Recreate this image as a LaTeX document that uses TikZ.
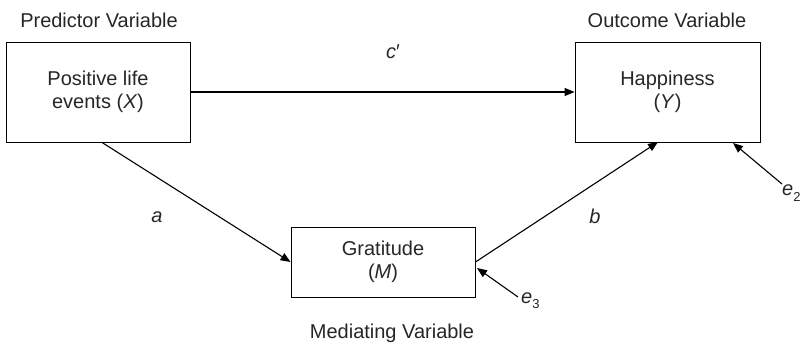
\documentclass[tikz,border=0pt]{standalone}
\usepackage{fontspec}
\setmainfont{Liberation Sans}
\usetikzlibrary{arrows.meta}
\begin{document}
\begin{tikzpicture}[x=1pt,y=-1pt,
  every node/.style={font=\fontsize{20}{23}\selectfont, text=black!85},
  varbox/.style={draw, line width=0.9pt, inner sep=0pt, align=center},
  conn/.style={line width=1.1pt, -{Triangle[length=10pt,width=8pt]}},
  lbl/.style={inner sep=0pt}]
\useasboundingbox (0,0) rectangle (803,349);
\node[varbox, minimum width=184pt, minimum height=100pt] (X) at (98,92) {Positive life\\events (\textit{X})};
\node[varbox, minimum width=185pt, minimum height=100pt] (Y) at (667.5,92) {Happiness\\(\textit{Y})};
\node[varbox, minimum width=184pt, minimum height=70pt] (M) at (383,262) {Gratitude\\(\textit{M})};
\coordinate (e2s) at (782,184);
\coordinate (e3s) at (518,297);
\node[lbl] (tp) at (99,20) {Predictor Variable};
\node[lbl] (to) at (667,20) {Outcome Variable};
\node[lbl] (tm) at (392,333) {Mediating Variable};
\node[lbl] (lc) at (393,52) {\textit{c}′};
\node[lbl] (la) at (157,217) {\textit{a}};
\node[lbl] (lb) at (595,216) {\textit{b}};
\node[lbl, anchor=west] (le2) at (782,193) {\textit{e}\raisebox{-0.5ex}{\fontsize{13}{13}\selectfont 2}};
\node[lbl, anchor=west] (le3) at (521,301) {\textit{e}\raisebox{-0.5ex}{\fontsize{13}{13}\selectfont 3}};
\draw[conn] (X.east) -- (Y.west);
\draw[conn] (X.south) ++(4,0) -- (M.west);
\draw[conn] (M.east) -- (658,142);
\draw[conn] (e2s) -- (733,143);
\draw[conn] (e3s) -- (477,268);
\end{tikzpicture}
\end{document}
